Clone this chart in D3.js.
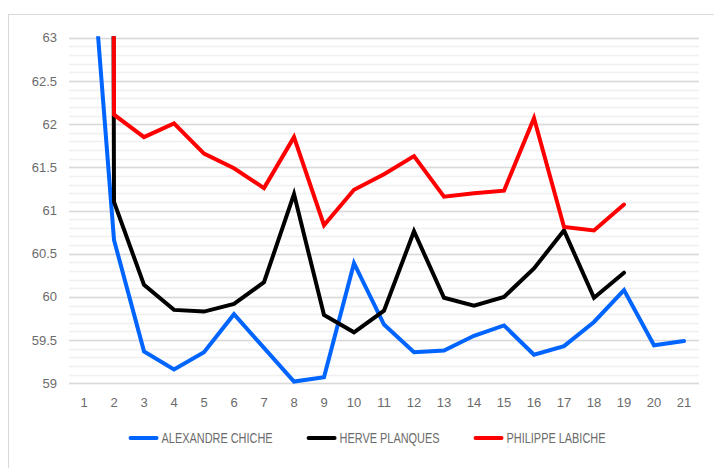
<!DOCTYPE html>
<html>
<head>
<meta charset="utf-8">
<script src="https://cdn.jsdelivr.net/npm/d3@7"></script>
<style>
  body { margin: 0; background: #fff; }
  text { font-family: "Liberation Sans Narrow", "Liberation Sans", Arial, sans-serif; font-size: 13px; fill: #6b6b6b; }
  .legend text { font-size: 14px; }
</style>
</head>
<body>
<div id="chart"></div>
<script>
// categories and values
let categories = d3.range(1, 22);
let chiche = [65.1, 60.66, 59.37, 59.16, 59.36, 59.8, 59.41, 59.02, 59.07, 60.39, 59.68, 59.36, 59.38, 59.55, 59.67, 59.33, 59.43, 59.71, 60.08, 59.44, 59.49];
let planques = [200, 61.1, 60.14, 59.85, 59.83, 59.92, 60.17, 61.19, 59.79, 59.59, 59.84, 60.76, 59.99, 59.9, 60.0, 60.33, 60.77, 59.99, 60.28];
let labiche = [200, 62.11, 61.85, 62.01, 61.66, 61.49, 61.26, 61.85, 60.83, 61.24, 61.42, 61.63, 61.16, 61.2, 61.23, 62.07, 60.81, 60.77, 61.07];
let seriesNames = ["ALEXANDRE CHICHE", "HERVE PLANQUES", "PHILIPPE LABICHE"];
let seriesColors = ["#0064ff", "#000000", "#ff0000"];
let yTicks = [59, 59.5, 60, 60.5, 61, 61.5, 62, 62.5, 63];

let series = [chiche, planques, labiche].map(function(vals, i) {
  return { name: seriesNames[i], color: seriesColors[i], values: vals };
});

let width = 714, height = 468;
let plot = { left: 69, right: 699, top: 37.8, bottom: 383.3 };

let svg = d3.select("#chart")
  .append("svg")
  .attr("width", width)
  .attr("height", height);

// chart area outline
svg.append("rect")
  .attr("x", 8.5)
  .attr("y", 14.5)
  .attr("width", 740)
  .attr("height", 500)
  .attr("fill", "#fff")
  .attr("stroke", "#d9d9d9");

let x = d3.scalePoint()
  .domain(categories)
  .range([plot.left, plot.right])
  .padding(0.5);

let y = d3.scaleLinear()
  .domain([59, 63])
  .range([plot.bottom, plot.top]);

// minor gridlines
svg.append("g")
  .selectAll("line")
  .data(d3.range(59, 63.001, 0.1))
  .enter()
  .append("line")
  .attr("x1", plot.left)
  .attr("x2", plot.right)
  .attr("y1", function(d) { return Math.round(y(d)) + 0.5; })
  .attr("y2", function(d) { return Math.round(y(d)) + 0.5; })
  .attr("stroke", "#f0f0f0")
  .attr("stroke-width", 1.5);

// major gridlines
svg.append("g")
  .selectAll("line")
  .data(yTicks)
  .enter()
  .append("line")
  .attr("x1", plot.left)
  .attr("x2", plot.right)
  .attr("y1", function(d) { return Math.round(y(d)) + 0.5; })
  .attr("y2", function(d) { return Math.round(y(d)) + 0.5; })
  .attr("stroke", "#d9d9d9")
  .attr("stroke-width", 1.5);

// y labels
svg.append("g")
  .selectAll("text")
  .data(yTicks)
  .enter()
  .append("text")
  .attr("x", 57)
  .attr("y", function(d) { return y(d); })
  .attr("dy", "0.35em")
  .attr("text-anchor", "end")
  .text(function(d) { return d; });

// x labels
svg.append("g")
  .selectAll("text")
  .data(categories)
  .enter()
  .append("text")
  .attr("x", function(d) { return x(d); })
  .attr("y", 402)
  .attr("dy", "0.35em")
  .attr("text-anchor", "middle")
  .text(function(d) { return d; });

svg.append("clipPath")
  .attr("id", "clip")
  .append("rect")
  .attr("x", 0)
  .attr("y", plot.top - 1.5)
  .attr("width", width)
  .attr("height", height);

let line = d3.line()
  .x(function(d, i) { return x(categories[i]); })
  .y(function(d) { return y(d); });

svg.append("g")
  .attr("clip-path", "url(#clip)")
  .selectAll("path")
  .data(series)
  .enter()
  .append("path")
  .attr("d", function(d) { return line(d.values); })
  .attr("fill", "none")
  .attr("stroke", function(d) { return d.color; })
  .attr("stroke-width", 4)
  .attr("stroke-linejoin", "miter")
  .attr("stroke-linecap", "round");

// legend, centred on the chart area (narrow lettering like the original)
let legend = svg.append("g").attr("class", "legend");
let items = legend.selectAll("g")
  .data(series)
  .enter()
  .append("g");

items.append("line")
  .attr("x1", 2)
  .attr("x2", 28)
  .attr("y1", 0)
  .attr("y2", 0)
  .attr("stroke", function(d) { return d.color; })
  .attr("stroke-width", 4)
  .attr("stroke-linecap", "round");

items.append("text")
  .attr("x", 33)
  .attr("y", 0)
  .attr("dy", "0.35em")
  .text(function(d) { return d.name; });

let offset = 0;
items.each(function() {
  let t = this.querySelector("text");
  let tw = t.getComputedTextLength() * 0.78;
  d3.select(t).attr("textLength", tw).attr("lengthAdjust", "spacingAndGlyphs");
  d3.select(this).attr("transform", "translate(" + offset + ",0)");
  offset += tw + 33 + 34;
});
offset -= 34;
legend.attr("transform", "translate(" + (367 - offset / 2) + ",438)");
</script>
</body>
</html>
